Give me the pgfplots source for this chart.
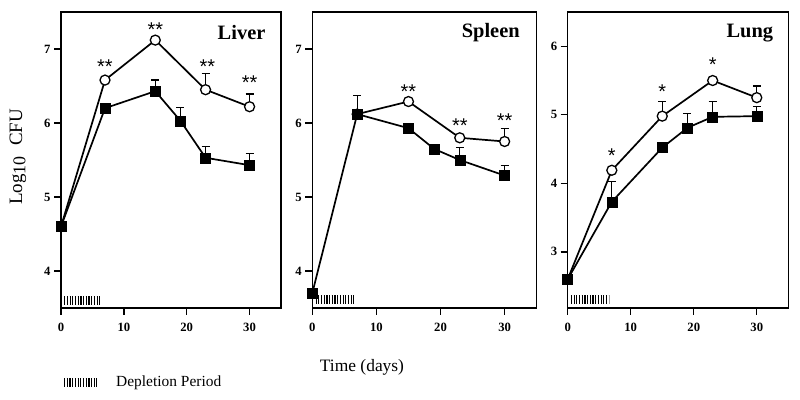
\documentclass[border=0pt]{standalone}
\usepackage{fontspec}
\setmainfont{Liberation Serif}
\newfontfamily\starfont{Liberation Sans}
\usepackage{pgfplots}
\usepackage{pgfplotstable}
\pgfplotsset{compat=1.18}

\pgfplotstableread{
x y e
0 4.6 0
7 6.2 0
15 6.43 0.15
19 6.03 0.18
23 5.53 0.15
30 5.43 0.16
}\liversq
\pgfplotstableread{
x y e
0 4.6 0
7 6.58 0
15 7.12 0
23 6.45 0.22
30 6.22 0.17
}\livercirc
\pgfplotstableread{
x y e
0 3.7 0
7 6.12 0.25
15 5.93 0
19 5.65 0
23 5.5 0.17
30 5.29 0.14
}\spleensq
\pgfplotstableread{
x y e
7 6.12 0
15 6.29 0
23 5.8 0
30 5.75 0.18
}\spleencirc
\pgfplotstableread{
x y e
0 2.6 0
7 3.73 0.3
15 4.52 0
19 4.81 0.21
23 4.97 0.22
30 4.98 0.14
}\lungsq
\pgfplotstableread{
x y e
0 2.6 0
7 4.19 0
15 4.98 0.21
23 5.5 0
30 5.25 0.17
}\lungcirc

\pgfplotsset{
 panel/.style={
  scale only axis, height=296bp,
  xmin=0, xmax=35, xtick={0,10,20,30},
  tick pos=left, tick align=outside, major tick length=7bp,
  axis line style={line width=1.5bp},
  every tick/.style={line width=1.4bp, black},
  tick label style={font=\fontsize{12.7}{14}\selectfont\bfseries},
  xticklabel style={yshift=-5bp},
  yticklabel style={xshift=0bp},
  /pgf/number format/assume math mode=true,
  clip=false,
 },
 ebars/.style={
   error bars/y dir=plus, error bars/y explicit,
   error bars/error bar style={line width=1.2bp},
   error bars/error mark options={rotate=90, line width=1.3bp, mark size=4bp}},
 sq/.style={black, line width=1.7bp, mark=square*, mark size=5bp,
   mark options={solid, fill=black, line width=0.5bp}, ebars},
 ci/.style={black, line width=1.7bp, mark=*, mark size=5bp,
   mark options={solid, fill=white, line width=1.3bp}, ebars},
}
\tikzset{
 dep/.style={line width=9bp, dash pattern=on 1.2bp off 1.5bp},
 ttl/.style={anchor=east, font=\fontsize{20.5}{22}\selectfont\bfseries},
 star/.style={font=\starfont\fontsize{20}{20}\selectfont},
}

\begin{document}
\begin{tikzpicture}
\useasboundingbox (0,0) rectangle (800bp,400bp);

% Liver
\begin{axis}[panel, at={(61bp,92bp)}, anchor=south west, width=220bp,
  ymin=3.5, ymax=7.5, ytick={4,5,6,7}]
\addplot[ci, mark indices={2,3,4,5}] table[x=x,y=y,y error=e]{\livercirc};
\addplot[sq] table[x=x,y=y,y error=e]{\liversq};
\draw[dep] (axis cs:0.5,3.6) -- (axis cs:6.5,3.6);
\node[ttl] at (rel axis cs:0.945,0.93) {Liver};
\node[star] at (axis cs:7,6.76) {**};
\node[star] at (axis cs:15,7.26) {**};
\node[star] at (axis cs:23.3,6.76) {**};
\node[star] at (axis cs:30,6.55) {**};
\end{axis}

% Spleen
\begin{axis}[panel, at={(312.3bp,92bp)}, anchor=south west, width=224.4bp,
  ymin=3.5, ymax=7.5, ytick={4,5,6,7}]
\addplot[ci] table[x=x,y=y,y error=e]{\spleencirc};
\addplot[sq] table[x=x,y=y,y error=e]{\spleensq};
\draw[dep] (axis cs:0.5,3.62) -- (axis cs:6.5,3.62);
\node[ttl] at (rel axis cs:0.94,0.93) {Spleen};
\node[star] at (axis cs:15,6.42) {**};
\node[star] at (axis cs:23,5.96) {**};
\node[star] at (axis cs:30,6.03) {**};
\end{axis}

% Lung
\begin{axis}[panel, at={(567.7bp,92bp)}, anchor=south west, width=220.6bp,
  ymin=2.18, ymax=6.5, ytick={3,4,5,6}]
\addplot[ci, mark indices={2,3,4,5}] table[x=x,y=y,y error=e]{\lungcirc};
\addplot[sq] table[x=x,y=y,y error=e]{\lungsq};
\draw[dep] (axis cs:0.5,2.31) -- (axis cs:6.5,2.31);
\node[ttl] at (rel axis cs:0.947,0.93) {Lung};
\node[star] at (axis cs:7,4.4) {*};
\node[star] at (axis cs:15,5.34) {*};
\node[star] at (axis cs:23,5.73) {*};
\end{axis}

\node[rotate=90, font=\fontsize{19}{20}\selectfont] at (18bp,243bp)
  {Log{\raisebox{-0.35ex}{\fontsize{18}{18}\selectfont 10}}\hspace{0.3em} CFU};
\node[font=\fontsize{17.5}{20}\selectfont] at (362bp,33bp) {Time (days)};
\draw[dep] (64bp,17bp) -- (97bp,17bp);
\node[anchor=west, font=\fontsize{15.5}{18}\selectfont, inner sep=0pt] at (116bp,17bp) {Depletion Period};
\end{tikzpicture}
\end{document}
